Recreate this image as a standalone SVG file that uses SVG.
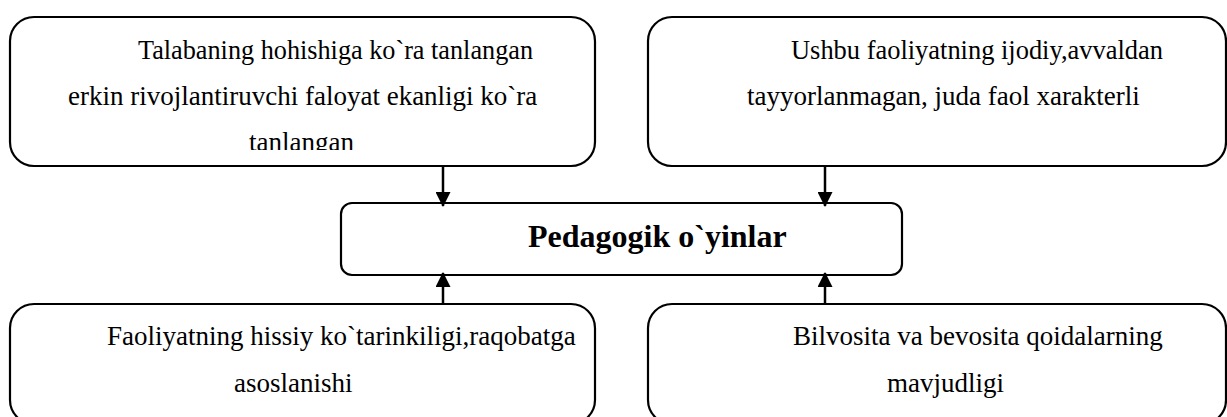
<svg xmlns="http://www.w3.org/2000/svg" width="1227" height="417" viewBox="0 0 1227 417">
<style>
.box{fill:#fff;stroke:#000;stroke-width:2.2}
.t{font-family:"Liberation Serif","Times New Roman",serif;font-size:27px;fill:#000}
.title{font-family:"Liberation Serif","Times New Roman",serif;font-size:32px;font-weight:bold;fill:#000}
.conn{stroke:#000;stroke-width:2.5;fill:none}
</style>
<defs>
<marker id="ah" markerWidth="15" markerHeight="15" refX="14" refY="7.5" orient="auto" markerUnits="userSpaceOnUse">
<path d="M0,0 L15,7.5 L0,15 Z" fill="#000"/>
</marker>
<clipPath id="clip1"><rect x="10" y="18" width="585" height="132"/></clipPath>
</defs>
<g id="node-top-left">
<rect class="box" x="10" y="17" width="585" height="149" rx="24" ry="24"/>
<g clip-path="url(#clip1)">
<text class="t" x="138" y="59" textLength="395" lengthAdjust="spacingAndGlyphs">Talabaning hohishiga ko`ra tanlangan</text>
<text class="t" x="68" y="105">erkin rivojlantiruvchi faloyat ekanligi ko`ra</text>
<text class="t" x="249" y="151">tanlangan</text>
</g>
</g>
<g id="node-top-right">
<rect class="box" x="648" y="17" width="578" height="149" rx="24" ry="24"/>
<text class="t" x="791" y="59" textLength="372" lengthAdjust="spacingAndGlyphs">Ushbu faoliyatning ijodiy,avvaldan</text>
<text class="t" x="747" y="105">tayyorlanmagan, juda faol xarakterli</text>
</g>
<g id="node-center">
<rect class="box" x="341" y="203" width="561" height="72" rx="11" ry="11"/>
<text class="title" x="528" y="247">Pedagogik o`yinlar</text>
</g>
<g id="node-bottom-left">
<rect class="box" x="10" y="304" width="585" height="120" rx="24" ry="24"/>
<text class="t" x="107" y="345">Faoliyatning hissiy ko`tarinkiligi,raqobatga</text>
<text class="t" x="234" y="392">asoslanishi</text>
</g>
<g id="node-bottom-right">
<rect class="box" x="648" y="304" width="578" height="120" rx="24" ry="24"/>
<text class="t" x="793" y="345">Bilvosita va bevosita qoidalarning</text>
<text class="t" x="887" y="392">mavjudligi</text>
</g>
<g id="connectors">
<line class="conn" x1="443" y1="166" x2="443" y2="206" marker-end="url(#ah)"/>
<line class="conn" x1="825" y1="166" x2="825" y2="206" marker-end="url(#ah)"/>
<line class="conn" x1="443" y1="305" x2="443" y2="273" marker-end="url(#ah)"/>
<line class="conn" x1="825" y1="305" x2="825" y2="273" marker-end="url(#ah)"/>
</g>
</svg>
